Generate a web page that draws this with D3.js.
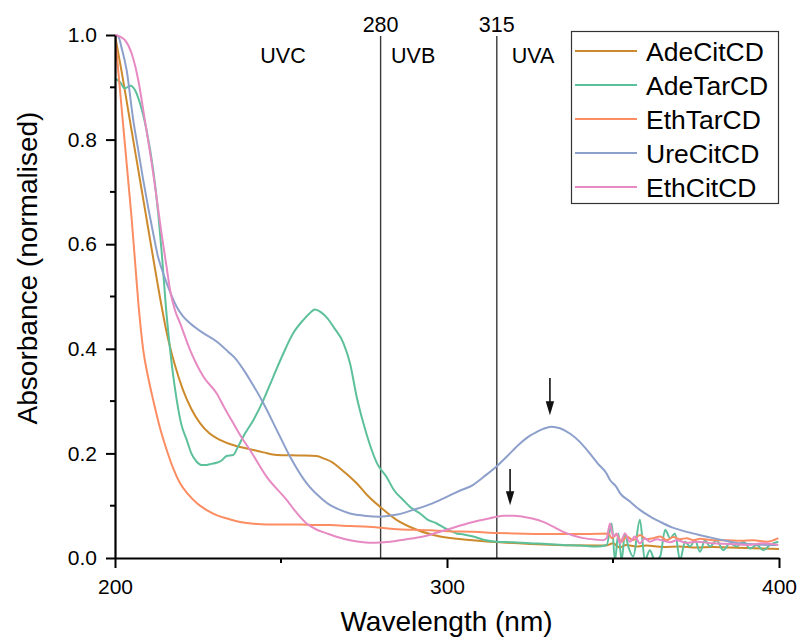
<!DOCTYPE html>
<html>
<head>
<meta charset="utf-8">
<script src="https://cdn.jsdelivr.net/npm/d3@7"></script>
<style>
  body { margin: 0; background: #fff; }
  svg { display: block; font-family: "Liberation Sans", Arial, Helvetica, sans-serif; }
</style>
</head>
<body>
<svg id="chart" width="799" height="639"></svg>
<script>
// Normalised UV-Vis absorbance spectra, [wavelength (nm), absorbance]
const seriesNames = ["AdeCitCD", "AdeTarCD", "EthTarCD", "UreCitCD", "EthCitCD"];
const seriesColors = ["#cc8a2c", "#5cc09b", "#fc8d62", "#8da0cb", "#e78ac3"];

const adeCitCD = [
  [200,1.0],[202,0.93],[204,0.855],[206,0.78],[208,0.705],[210,0.63],[212,0.555],[213.5,0.50],
  [215.6,0.43],[218,0.37],[220.5,0.321],[223,0.285],[225.6,0.258],[228.5,0.238],[231.6,0.226],
  [236,0.215],[240.7,0.208],[244.7,0.202],[248.7,0.197],[255.7,0.196],[260.7,0.195],[263,0.19],
  [265.7,0.182],[268,0.17],[270.8,0.155],[272.8,0.143],[276,0.12],[279.8,0.098],[284.8,0.073],
  [290.9,0.054],[297.9,0.041],[307.8,0.034],[325,0.027],[345,0.024],[348,0.024],[350,0.028],
  [352,0.02],[354,0.025],[357,0.022],[360,0.024],[365,0.021],[370,0.022],[375,0.02],[380,0.021],
  [385,0.02],[390,0.019],[395,0.018],[400,0.017]
];

const adeTarCD = [
  [200,0.917],[201.5,0.91],[203,0.898],[204.7,0.903],[206,0.895],[207.5,0.87],[209.5,0.818],
  [211.5,0.742],[213,0.66],[214,0.589],[215.6,0.461],[216.6,0.398],[218.6,0.302],[220,0.255],
  [221.6,0.226],[223,0.2],[224.6,0.184],[226,0.178],[227.6,0.178],[229,0.18],[230.6,0.182],
  [232,0.186],[233.6,0.195],[235.6,0.197],[237,0.212],[238.6,0.232],[241.7,0.264],[244.7,0.302],
  [247.7,0.347],[250.7,0.391],[253.7,0.430],[256.7,0.455],[258.5,0.467],[260.2,0.475],[262,0.47],
  [264,0.458],[266,0.44],[268.8,0.411],[270.8,0.372],[272.8,0.308],[274.8,0.258],[276.8,0.216],
  [279,0.18],[281.8,0.155],[284,0.13],[286.8,0.111],[289,0.097],[291.9,0.085],[294,0.074],
  [296.9,0.066],[300,0.055],[302.9,0.047],[305,0.045],[307.9,0.041],[311,0.035],[314.9,0.031],
  [320,0.03],[325,0.028],[330,0.027],[335,0.025],[340,0.024],[345,0.022],[348.1,0.025],
  [349.6,0.066],[350.6,-0.004],[351.6,0.047],[352.6,-0.004],[353.6,0.047],[354.6,0.022],
  [356.1,0.003],[358.1,0.073],[359.6,-0.004],[361.1,0.015],[362.6,-0.004],[364.2,0.003],
  [365.7,0.054],[367.2,0.038],[368.7,0.047],[370.2,-0.004],[371.7,0.031],[373.2,0.022],
  [374.7,0.034],[376.2,0.012],[377.7,0.034],[379.2,0.022],[381.2,0.034],[383.2,0.015],
  [385.2,0.028],[387.2,0.022],[389.3,0.031],[391.3,0.018],[393.3,0.025],[395.3,0.015],
  [397.3,0.025],[399.8,0.031]
];

const ethTarCD = [
  [200,1.0],[201,0.93],[202,0.86],[203,0.79],[204,0.72],[205,0.65],[206,0.57],[207,0.49],
  [208.5,0.398],[210,0.345],[211.5,0.302],[213.5,0.25],[215.6,0.206],[217.5,0.172],[219.6,0.143],
  [222,0.122],[224.6,0.105],[227.5,0.092],[230.6,0.082],[234,0.075],[237.7,0.069],[241,0.066],
  [245.7,0.064],[250,0.064],[255.7,0.064],[260,0.063],[264.8,0.063],[270.8,0.061],[274.8,0.060],
  [280,0.058],[285,0.055],[289.8,0.054],[295,0.053],[300,0.051],[307.9,0.05],[315,0.048],
  [320,0.047],[328,0.046],[335,0.046],[342,0.046],[348.6,0.047],[349.6,0.038],[351.1,0.044],
  [352.6,0.031],[354.1,0.041],[356.1,0.034],[358.1,0.044],[360.1,0.036],[362.1,0.038],
  [364.2,0.041],[366.2,0.034],[368.2,0.04],[370.2,0.036],[372.2,0.038],[374.2,0.034],
  [376.2,0.037],[380.2,0.034],[384.2,0.034],[388.3,0.033],[392.3,0.034],[396.3,0.031],[399.8,0.038]
];

const ureCitCD = [
  [200,1.0],[201,0.997],[202,0.975],[203.5,0.933],[205.5,0.837],[207,0.78],[208.5,0.723],
  [210,0.67],[211.5,0.621],[213,0.575],[214,0.554],[215.6,0.525],[218.6,0.48],[220.5,0.462],
  [222.6,0.449],[226.6,0.430],[230.6,0.414],[234,0.395],[236.6,0.379],[238.5,0.362],[240.7,0.340],
  [244.7,0.296],[248.7,0.245],[252.7,0.194],[257.7,0.143],[262.7,0.111],[264.8,0.101],[267.8,0.092],
  [270.8,0.085],[275,0.081],[279.8,0.079],[285,0.083],[289.8,0.092],[295,0.103],[299.9,0.117],
  [304,0.129],[307.9,0.140],[311,0.155],[314.9,0.175],[318.5,0.197],[322,0.219],[325,0.234],
  [327,0.241],[329,0.247],[331.5,0.251],[334,0.248],[337,0.238],[340,0.222],[343,0.2],[345.5,0.18],
  [348,0.162],[349.1,0.149],[351,0.136],[352.1,0.124],[355.1,0.108],[358.1,0.092],[361,0.08],
  [365.2,0.066],[368,0.058],[372.2,0.050],[376,0.044],[380.2,0.038],[384,0.033],[388.3,0.028],
  [393,0.026],[399.3,0.025]
];

const ethCitCD = [
  [200,1.0],[201.5,0.997],[203,0.99],[205,0.965],[207,0.914],[209,0.837],[211.5,0.736],[214,0.621],
  [215.6,0.554],[216.6,0.512],[218,0.475],[219.6,0.449],[222.6,0.398],[226.6,0.347],[230.6,0.315],
  [233,0.287],[235.6,0.258],[238,0.232],[240.7,0.206],[245.7,0.155],[251.7,0.111],[254.5,0.088],
  [257.7,0.066],[260.5,0.055],[263.8,0.047],[267,0.04],[270.8,0.034],[274.8,0.030],[278,0.029],
  [282.8,0.031],[287,0.035],[292.9,0.041],[299.9,0.054],[304,0.062],[307.9,0.069],[312.9,0.076],
  [316.9,0.081],[320,0.081],[322.9,0.079],[326,0.075],[329,0.069],[332,0.06],[335,0.050],
  [338,0.043],[341.1,0.038],[345,0.035],[347,0.034],[348.1,0.038],[349.1,0.066],[350.1,0.041],
  [351.1,0.047],[352.1,0.028],[353.6,0.047],[355.1,0.031],[356.6,0.041],[358.1,0.028],
  [359.6,0.038],[361.1,0.031],[363.2,0.036],[365.2,0.033],[367.2,0.030],[369.2,0.034],
  [372.2,0.029],[375.2,0.031],[380.2,0.028],[385.2,0.027],[390.3,0.025],[395.3,0.028],[399.8,0.025]
];

const seriesData = [adeCitCD, adeTarCD, ethTarCD, ureCitCD, ethCitCD];

const xTicks = [200, 300, 400];
const xMinorTicks = [250, 350];
const yTicks = [0, 0.2, 0.4, 0.6, 0.8, 1.0];
const yMinorTicks = [0.1, 0.3, 0.5, 0.7, 0.9];

// UV band boundaries and band names
const bandEdges = [280, 315];
const bandNames = ["UVC", "UVB", "UVA"];
const bandNamePos = [250.6, 289.8, 325.9];

// Arrows marking the near-UV absorption maxima
const arrowNm = [331, 319];
const arrowFrom = [0.344, 0.170];
const arrowTo = [0.273, 0.101];

const svg = d3.select("#chart");
const x = d3.scaleLinear().domain([200, 400]).range([115, 779]);
const y = d3.scaleLinear().domain([0, 1]).range([558, 35]);

svg.append("defs").append("clipPath").attr("id", "plotClip")
  .append("rect").attr("x", x(200)).attr("y", 10)
  .attr("width", x(400) - x(200)).attr("height", y(0) - 10);

// Band boundary lines and labels
const bands = svg.append("g");
bands.selectAll("line").data(bandEdges).join("line")
  .attr("x1", d => x(d)).attr("x2", d => x(d))
  .attr("y1", 36).attr("y2", y(0))
  .attr("stroke", "#3a3a3a").attr("stroke-width", 1.4);
bands.selectAll("text.edge").data(bandEdges).join("text")
  .attr("class", "edge")
  .attr("x", d => x(d)).attr("y", 31.5)
  .attr("text-anchor", "middle").attr("font-size", 21.5).attr("fill", "#000")
  .text(d => d);
bands.selectAll("text.band").data(bandNames).join("text")
  .attr("class", "band")
  .attr("x", (d, i) => x(bandNamePos[i])).attr("y", 63)
  .attr("text-anchor", "middle").attr("font-size", 21.5).attr("fill", "#000")
  .text(d => d);

// Spectra
const line = d3.line()
  .x(d => x(d[0])).y(d => y(d[1]))
  .curve(d3.curveMonotoneX);

svg.append("g").attr("clip-path", "url(#plotClip)")
  .selectAll("path").data(seriesData).join("path")
  .attr("d", line)
  .attr("fill", "none")
  .attr("stroke", (d, i) => seriesColors[i])
  .attr("stroke-width", 2)
  .attr("stroke-linejoin", "round");

// Arrows
const arrowG = svg.append("g");
arrowNm.forEach((nm, i) => {
  const ax = x(nm), y0 = y(arrowFrom[i]), y1 = y(arrowTo[i]);
  arrowG.append("line")
    .attr("x1", ax).attr("x2", ax).attr("y1", y0).attr("y2", y1 - 8)
    .attr("stroke", "#111").attr("stroke-width", 1.6);
  arrowG.append("path")
    .attr("d", `M${ax - 4.2},${y1 - 14} L${ax + 4.2},${y1 - 14} L${ax},${y1} Z`)
    .attr("fill", "#111");
});

// Axes
const xAxis = svg.append("g").attr("transform", `translate(0,${y(0)})`)
  .call(d3.axisBottom(x).tickValues(xTicks).tickSize(10).tickSizeOuter(0).tickPadding(11));
xAxis.selectAll("text").attr("font-size", 21).attr("fill", "#000")
  .attr("font-family", "'Liberation Sans', Arial, sans-serif");
xAxis.selectAll("line").attr("stroke", "#000").attr("stroke-width", 2);
xAxis.select(".domain").attr("stroke", "#000").attr("stroke-width", 2.2);
xAxis.selectAll(".minor").data(xMinorTicks).join("line")
  .attr("class", "minor")
  .attr("x1", d => x(d)).attr("x2", d => x(d)).attr("y1", 0).attr("y2", 5)
  .attr("stroke", "#000").attr("stroke-width", 2);

const yAxis = svg.append("g").attr("transform", `translate(${x(200)},0)`)
  .call(d3.axisLeft(y).tickValues(yTicks).tickFormat(d3.format(".1f"))
    .tickSize(9).tickSizeOuter(0).tickPadding(9));
yAxis.selectAll("text").attr("font-size", 21).attr("fill", "#000")
  .attr("font-family", "'Liberation Sans', Arial, sans-serif");
yAxis.selectAll("line").attr("stroke", "#000").attr("stroke-width", 2);
yAxis.select(".domain").attr("stroke", "#000").attr("stroke-width", 2.2);
yAxis.selectAll(".minor").data(yMinorTicks).join("line")
  .attr("class", "minor")
  .attr("x1", -5).attr("x2", 0).attr("y1", d => y(d)).attr("y2", d => y(d))
  .attr("stroke", "#000").attr("stroke-width", 2);

// Axis titles
svg.append("text")
  .attr("x", (x(200) + x(400)) / 2 - 0.5).attr("y", 631)
  .attr("text-anchor", "middle").attr("font-size", 28).attr("fill", "#000")
  .text("Wavelength (nm)");
svg.append("text")
  .attr("transform", `translate(37,268) rotate(-90)`)
  .attr("text-anchor", "middle").attr("font-size", 28).attr("fill", "#000")
  .text("Absorbance (normalised)");

// Legend
const legend = svg.append("g");
legend.append("rect")
  .attr("x", 571.5).attr("y", 31.5).attr("width", 207).attr("height", 172)
  .attr("fill", "#fff").attr("stroke", "#333").attr("stroke-width", 1.2);
const rows = legend.selectAll("g.row").data(seriesNames).join("g")
  .attr("class", "row")
  .attr("transform", (d, i) => `translate(0,${51 + 34 * i})`);
rows.append("line")
  .attr("x1", 575).attr("x2", 637).attr("y1", 0).attr("y2", 0)
  .attr("stroke", (d, i) => seriesColors[i]).attr("stroke-width", 2);
rows.append("text")
  .attr("x", 646).attr("y", 0).attr("dy", "0.36em")
  .attr("font-size", 26.5).attr("fill", "#000")
  .text(d => d);
</script>
</body>
</html>
